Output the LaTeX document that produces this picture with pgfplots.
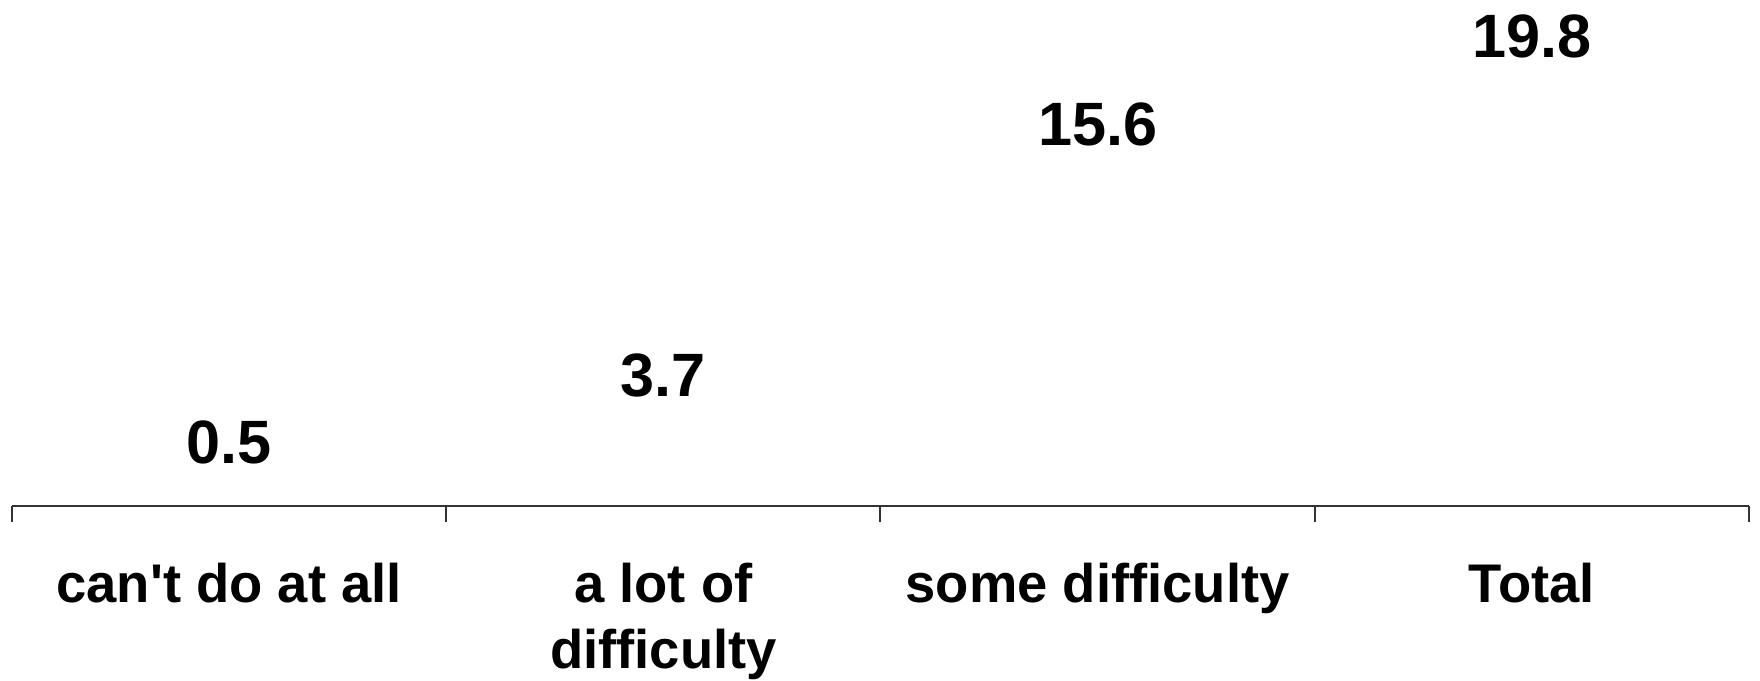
\documentclass[border=0pt]{standalone}
\usepackage{pgfplots}
\pgfplotsset{compat=1.18}
\usepackage{fontspec}
\setmainfont{Liberation Sans}
\begin{document}
\begin{tikzpicture}
\useasboundingbox (-3pt,-43.75pt) rectangle (437pt,126.5pt);
\begin{axis}[
 at={(0,0)}, anchor=south west,
 scale only axis, width=434.25pt, height=126.5pt,
 xmin=-0.5, xmax=3.5, ymin=0, ymax=24.03,
 axis x line=bottom, axis y line=none,
 axis line style={black!80, line width=0.5pt, -},
 axis on top,
 xtick={0,1,2,3},
 xticklabels={can\textquotesingle t do at all, {\begin{tabular}[t]{@{}c@{}}a lot of\\difficulty\end{tabular}}, some difficulty, Total},
 major x tick style={draw=none},
 minor xtick={-0.5,0.5,1.5,2.5,3.5},
 minor tick length=4pt, tick align=outside,
 minor x tick style={black!80, line width=0.5pt},
 xticklabel style={font=\fontsize{13.6}{16.5}\selectfont\bfseries, anchor=base, yshift=-19.9pt},
 ybar, bar width=0.5,
 nodes near coords,
 /pgf/number format/assume math mode=true,
 /pgf/number format/fixed, /pgf/number format/precision=1, /pgf/number format/fixed zerofill,
 every node near coord/.append style={font=\fontsize{15.3}{18}\selectfont\bfseries, anchor=base, yshift=7.9pt},
 clip=false,
]
\addplot[fill=none, draw=none] coordinates {(0,0.5) (1,3.7) (2,15.6) (3,19.8)};
\end{axis}
\end{tikzpicture}
\end{document}
